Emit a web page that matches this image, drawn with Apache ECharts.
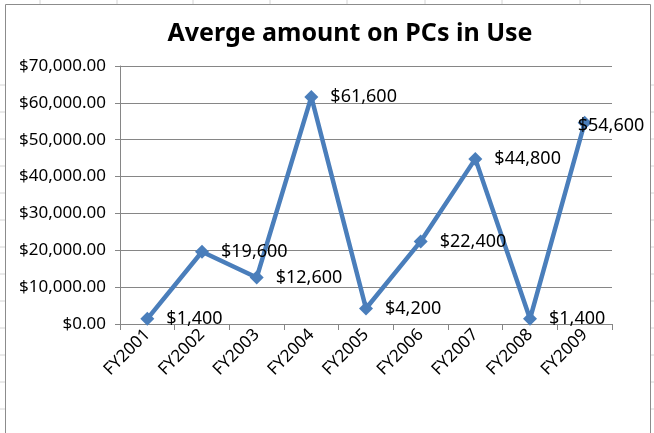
<!DOCTYPE html>
<html>
<head>
<meta charset="utf-8">
<script src="https://cdn.jsdelivr.net/npm/echarts@6/dist/echarts.min.js"></script>
<style>
	html, body { margin: 0; padding: 0; background: #fff; }
	#main { width: 654px; height: 433px; }
</style>
</head>
<body>
<div id="main"></div>
<script>
	// 数据
	var categories = ['FY2001', 'FY2002', 'FY2003', 'FY2004', 'FY2005', 'FY2006', 'FY2007', 'FY2008', 'FY2009'];
	var amounts = [1400, 19600, 12600, 61600, 4200, 22400, 44800, 1400, 54600];
	var yTicks = [0, 10000, 20000, 30000, 40000, 50000, 60000, 70000];

	var font = '"Noto Sans", "Liberation Sans", sans-serif';

	function money(v, dec) {
		var s = v.toFixed(dec).split('.');
		s[0] = s[0].replace(/\B(?=(\d{3})+(?!\d))/g, ',');
		return '$' + s.join('.');
	}

	// 背景表格线 (excel sheet)
	var sheet = [];
	[40, 117, 193, 270, 347, 425, 502, 580].forEach(function (x) {
		sheet.push({ type: 'line', shape: { x1: x, y1: 0, x2: x, y2: 4 }, style: { stroke: '#d4d4d4', lineWidth: 1 } });
	});
	[85, 112, 139, 166, 193, 220, 247, 274, 301, 328, 355, 382, 409].forEach(function (y) {
		sheet.push({ type: 'line', shape: { x1: 0, y1: y, x2: 5, y2: y }, style: { stroke: '#d4d4d4', lineWidth: 1 } });
		sheet.push({ type: 'line', shape: { x1: 651, y1: y, x2: 654, y2: y }, style: { stroke: '#d4d4d4', lineWidth: 1 } });
	});
	sheet.push({ type: 'rect', shape: { x: 5.5, y: 4.5, width: 645, height: 440 }, style: { fill: 'none', stroke: '#8c8c8c', lineWidth: 1 } });

	var chart = echarts.init(document.getElementById('main'));

	chart.setOption({
		animation: false,
		backgroundColor: '#fff',
		graphic: sheet,
		//标题
		title: {
			text: 'Averge amount on PCs in Use',
			left: 345,
			textAlign: 'center',
			top: 16,
			textStyle: { fontFamily: font, fontWeight: 'bold', fontSize: 25, color: '#000' }
		},
		//网格
		grid: {
			left: 120,
			right: 42,
			top: 66,
			bottom: 109,
			containLabel: false
		},
		//x轴
		xAxis: {
			type: 'category',
			data: categories,
			boundaryGap: true,
			axisLine: { lineStyle: { color: '#868686', width: 1 } },
			axisTick: { show: true, length: 6, lineStyle: { color: '#868686' } },
			axisLabel: {
				rotate: 45,
				margin: 8,
				fontFamily: font,
				fontSize: 17,
				color: '#000'
			}
		},
		//y轴
		yAxis: {
			type: 'value',
			min: yTicks[0],
			max: yTicks[yTicks.length - 1],
			interval: 10000,
			axisLine: { show: true, lineStyle: { color: '#868686', width: 1 } },
			axisTick: { show: true, length: 5, lineStyle: { color: '#868686' } },
			splitLine: { lineStyle: { color: '#868686', width: 1 } },
			axisLabel: {
				margin: 14,
				fontFamily: font,
				fontSize: 17,
				color: '#000',
				formatter: function (v) { return money(v, 2); }
			}
		},
		//系列列表
		series: [{
			type: 'line',
			data: amounts.map(function (v, i) {
				var d = { value: v };
				if (i === amounts.length - 1) {
					d.label = { offset: [-26, 3] };
				}
				return d;
			}),
			symbol: 'diamond',
			symbolSize: 14,
			itemStyle: { color: '#4a7ebb' },
			lineStyle: { color: '#4a7ebb', width: 4.5 },
			label: {
				show: true,
				position: 'right',
				distance: 12,
				fontFamily: font,
				fontSize: 18,
				color: '#000',
				formatter: function (p) { return money(p.value, 0); }
			}
		}]
	});
</script>
</body>
</html>
